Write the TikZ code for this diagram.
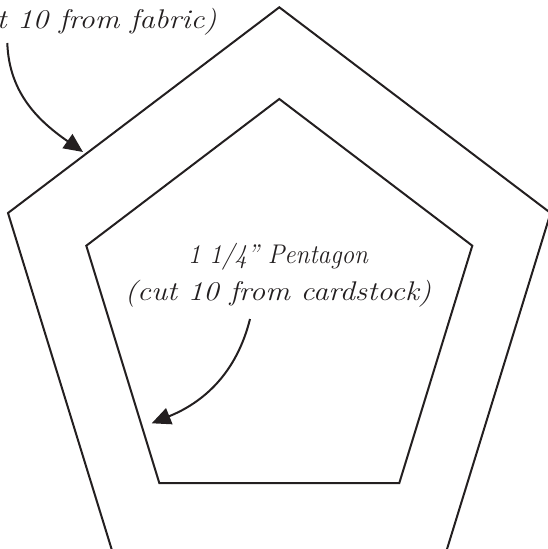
\documentclass[tikz,border=0pt]{standalone}
\usetikzlibrary{arrows.meta}
\definecolor{ink}{HTML}{231F20}
\tikzset{
  shapeline/.style={draw=ink, line width=2pt, line join=miter},
  pointer/.style={draw=ink, line width=2pt, -{Triangle[length=19pt,width=17pt]}},
  label/.style={inner sep=0pt, text=ink, font=\fontsize{27}{30}\selectfont\itshape},
}
\begin{document}
\begin{tikzpicture}[x=1pt,y=-1pt]
\useasboundingbox (0,0) rectangle (548,549);
\clip (0,0) rectangle (548,549);
% outer pentagon (bottom edge falls outside the picture)
\draw[shapeline] (279.3,7.3) -- (550.6,213) -- (445.8,553) -- (112.8,553) -- (8,213) -- cycle;
% inner pentagon
\draw[shapeline] (279.3,99) -- (472.3,245.7) -- (399.3,483) -- (159.3,483) -- (86.3,245.7) -- cycle;
% labels
\node[label, anchor=base east] (fabric) at (217,28) {\scalebox{1.14}[1]{(cut 10 from fabric)}};
\node[label, anchor=base] (cardA) at (278,263) {\scalebox{0.93}[1]{1 1/4'' Pentagon}};
\node[label, anchor=base] (cardB) at (278,300) {\scalebox{1.14}[1]{(cut 10 from cardstock)}};
% arrows
\coordinate (fabricTail) at (7.3,43);
\coordinate (outerEdge) at (83,152);
\coordinate (cardTail) at (250,319);
\coordinate (innerEdge) at (151.7,423.3);
\draw[pointer] (fabricTail) to[out=-88, in=145] (outerEdge);
\draw[pointer] (cardTail) to[out=-104, in=22] (innerEdge);
\end{tikzpicture}
\end{document}
